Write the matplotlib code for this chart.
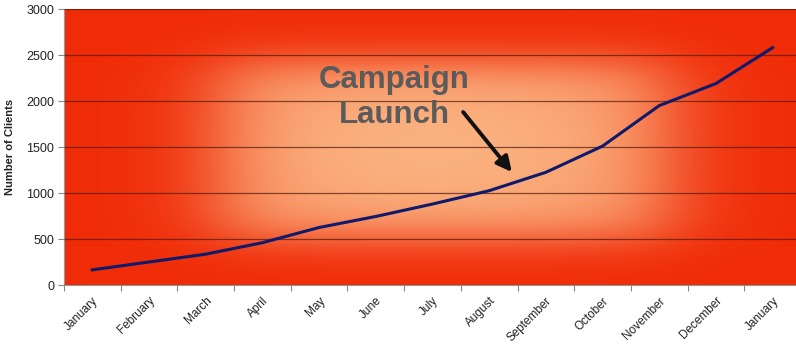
import numpy as np
import matplotlib
matplotlib.use("Agg")
import matplotlib.pyplot as plt

months = ["January", "February", "March", "April", "May", "June", "July",
          "August", "September", "October", "November", "December", "January"]
clients = [165, 250, 335, 460, 625, 745, 880, 1025, 1225, 1510, 1950, 2190, 2580]
y_ticks = [0, 500, 1000, 1500, 2000, 2500, 3000]

plt.rcParams['font.family'] = ['Liberation Sans', 'DejaVu Sans']

fig = plt.figure(figsize=(7.96, 3.5), dpi=100)
ax = fig.add_axes([64 / 796, 65 / 350, 737 / 796, 276 / 350])

x = np.arange(len(months))
ax.set_xlim(-0.5, len(months) - 0.5)
ax.set_ylim(0, 3000)

# Glowing background: red edges fading into a soft peach centre
nx, ny = 400, 200
gx = np.linspace(0, 1, nx)
gy = np.linspace(0, 1, ny)
X, Y = np.meshgrid(gx, gy)
def band(t, a, b, s):
    return 1 / (1 + np.exp(-(t - a) / s)) * 1 / (1 + np.exp((t - b) / s))
f = band(X, 0.21, 0.82, 0.04) * band(Y, 0.19, 0.83, 0.045)
f = f * (0.85 + 0.15 * np.exp(-((X - 0.5) ** 2) / 0.08 - ((Y - 0.5) ** 2) / 0.1))
edge = np.array([240, 44, 8]) / 255
centre = np.array([251, 178, 128]) / 255
img = edge[None, None, :] + (centre - edge)[None, None, :] * f[..., None]
ax.imshow(img, extent=[-0.5, len(months) - 0.5, 0, 3000], aspect='auto',
          origin='upper', zorder=0, interpolation='bilinear')

ax.set_yticks(y_ticks)
ax.yaxis.grid(True, color=(0.3, 0.1, 0.05), linewidth=0.9, alpha=0.7)
ax.set_axisbelow(False)

ax.plot(x, clients, color='#101a6a', linewidth=2.2, zorder=3,
        solid_joinstyle='round')

ax.set_xticks(np.arange(-0.5, len(months) + 0.5, 1.0), minor=False)
ax.set_xticklabels([])
ax.set_xticks(x, minor=True)
ax.set_xticklabels(months, minor=True, rotation=45, ha='right',
                   rotation_mode='anchor', fontsize=8.5, color='#222222')
ax.tick_params(axis='x', which='minor', length=0, pad=7)
ax.tick_params(axis='x', which='major', length=4, color='#888888', direction='out')
ax.tick_params(axis='y', length=4, color='#888888', labelsize=9,
               labelcolor='#222222', pad=3)

for side in ['top', 'right']:
    ax.spines[side].set_visible(False)
for side in ['left', 'bottom']:
    ax.spines[side].set_color('#999999')
    ax.spines[side].set_linewidth(0.8)

ax.set_ylabel("Number of Clients", fontsize=8, fontweight='bold',
              color='#222222', labelpad=8)

ax.text(5.32, 2040, "Campaign\nLaunch", ha='center', va='center',
        fontsize=22.5, fontweight='bold', color='#5b5b5b',
        linespacing=1.2, zorder=4)
ax.annotate("", xy=(7.4, 1228), xytext=(6.54, 1880),
            arrowprops=dict(arrowstyle='-|>,head_length=0.9,head_width=0.45',
                            color='#111111', lw=2.8, shrinkA=0, shrinkB=0),
            zorder=4)

fig.savefig("out.png", dpi=100)
